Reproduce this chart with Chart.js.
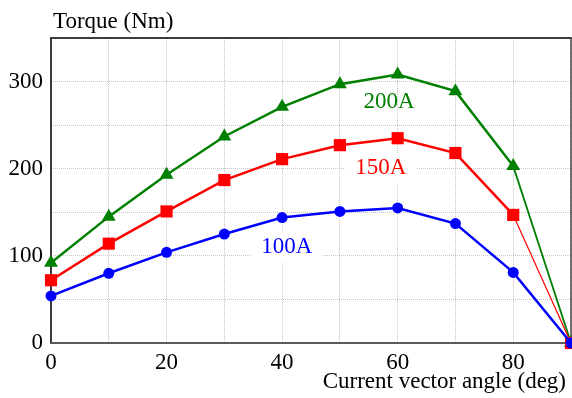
<!DOCTYPE html>
<html>
<head>
<meta charset="utf-8">
<script src="https://cdn.jsdelivr.net/npm/chart.js@4.4.1/dist/chart.umd.min.js"></script>
<style>
  html, body { margin: 0; padding: 0; background: #ffffff; }
  #wrap { width: 572px; height: 398px; }
</style>
</head>
<body>
<div id="wrap"><canvas id="c" width="572" height="398"></canvas></div>
<script>
// Current vector angle (deg)
const angles = [0, 10, 20, 30, 40, 50, 60, 70, 80, 90];

// Torque (Nm) for each phase current
const torque100A = [54, 80, 104, 125, 144, 151, 155, 137, 81, 0];
const torque150A = [72, 114, 151, 187, 211, 227, 235, 218, 147, 0];
const torque200A = [92, 145, 193, 237, 271, 297, 308, 289, 203, 0];

const seriesNames = ['100A', '150A', '200A'];

// Axis ticks
const xTickLabels = [0, 20, 40, 60, 80];
const yTickLabels = [0, 100, 200, 300];

const SERIF = '"Liberation Serif", "Times New Roman", serif';
const BLUE = '#0000ff', RED = '#ff0000', GREEN = '#008000';

// In-plot series labels, placed in data coordinates
const seriesTags = [
  { text: seriesNames[2], color: GREEN, x: 58.5, y: 277, box: false },
  { text: seriesNames[1], color: RED,   x: 57.1, y: 201, box: true },
  { text: seriesNames[0], color: BLUE,  x: 40.8, y: 110, box: true }
];

const frameAndLabels = {
  id: 'frameAndLabels',
  beforeDatasetsDraw(chart) {
    const { ctx, chartArea: a, scales } = chart;
    ctx.save();
    ctx.font = '23px ' + SERIF;
    // white backing behind boxed labels
    seriesTags.forEach(t => {
      if (!t.box) return;
      const cx = scales.x.getPixelForValue(t.x);
      const cy = scales.y.getPixelForValue(t.y);
      const w = ctx.measureText(t.text).width;
      ctx.fillStyle = '#ffffff';
      ctx.fillRect(cx - w / 2 - 10, cy - 15, w + 20, 30);
    });
    // plot frame
    ctx.lineCap = 'square';
    ctx.strokeStyle = '#000000';
    ctx.lineWidth = 1.5;
    ctx.beginPath(); ctx.moveTo(a.left, a.top); ctx.lineTo(a.right, a.top); ctx.stroke();
    ctx.strokeStyle = '#444444';
    ctx.beginPath(); ctx.moveTo(a.right, a.top); ctx.lineTo(a.right, a.bottom); ctx.stroke();
    ctx.lineWidth = 2;
    ctx.strokeStyle = '#3a3a3a';
    ctx.beginPath(); ctx.moveTo(a.left, a.top); ctx.lineTo(a.left, a.bottom); ctx.stroke();
    ctx.strokeStyle = '#5a5a5a';
    ctx.beginPath(); ctx.moveTo(a.left, a.bottom); ctx.lineTo(a.right, a.bottom); ctx.stroke();
    ctx.restore();
  },
  afterDatasetsDraw(chart) {
    const { ctx, chartArea: a, scales } = chart;
    ctx.save();
    ctx.font = '23px ' + SERIF;
    ctx.textAlign = 'center';
    ctx.textBaseline = 'middle';
    seriesTags.forEach(t => {
      ctx.fillStyle = t.color;
      ctx.fillText(t.text, scales.x.getPixelForValue(t.x), scales.y.getPixelForValue(t.y));
    });
    // axis titles
    ctx.fillStyle = '#000000';
    ctx.textAlign = 'left';
    ctx.fillText('Torque (Nm)', a.left + 2, 22);
    ctx.textAlign = 'right';
    ctx.fillText('Current vector angle (deg)', a.right - 5, 382);
    ctx.restore();
  }
};

const gridStyle = { color: '#c4c4c4', lineWidth: 1, drawTicks: false };
const borderStyle = { display: false, dash: [1, 1] };

new Chart(document.getElementById('c'), {
  type: 'line',
  data: {
    labels: angles,
    datasets: [
      {
        label: seriesNames[0],
        data: angles.map((a, i) => ({ x: a, y: torque100A[i] })),
        borderColor: BLUE, backgroundColor: BLUE,
        borderWidth: 2.5,
        pointStyle: 'circle', pointRadius: 5.5, pointBorderWidth: 0,
        clip: false
      },
      {
        label: seriesNames[1],
        data: angles.map((a, i) => ({ x: a, y: torque150A[i] })),
        borderColor: RED, backgroundColor: RED,
        borderWidth: 2.5,
        segment: { borderWidth: ctx => ctx.p1DataIndex === angles.length - 1 ? 1.2 : 2.5 },
        pointStyle: 'rect', pointRadius: 8.6, pointBorderWidth: 0,
        clip: false
      },
      {
        label: seriesNames[2],
        data: angles.map((a, i) => ({ x: a, y: torque200A[i] })),
        borderColor: GREEN, backgroundColor: GREEN,
        borderWidth: 2.5,
        segment: { borderWidth: ctx => ctx.p1DataIndex === angles.length - 1 ? 1.8 : 2.5 },
        pointStyle: 'triangle', pointRadius: 8, pointBorderWidth: 0,
        clip: false
      }
    ]
  },
  options: {
    responsive: false,
    animation: false,
    devicePixelRatio: 1,
    layout: { autoPadding: false, padding: { top: 38, right: 1, left: 0, bottom: 0 } },
    plugins: { legend: { display: false }, tooltip: { enabled: false }, title: { display: false } },
    elements: { line: { tension: 0 } },
    scales: {
      x: {
        type: 'linear', min: 0, max: 90,
        border: { ...borderStyle },
        grid: { ...gridStyle },
        ticks: {
          stepSize: 10, padding: 6, color: '#000000', maxRotation: 0, autoSkip: false,
          font: { family: SERIF, size: 23 },
          callback: v => (xTickLabels.includes(v) ? String(v) : '')
        },
        afterFit(scale) {
          scale.height = 55;
          scale.paddingLeft = 0;
          scale.paddingRight = 0;
        }
      },
      y: {
        type: 'linear', min: 0, max: 350,
        border: { ...borderStyle },
        grid: { ...gridStyle },
        ticks: {
          stepSize: 50, padding: 8, color: '#000000', autoSkip: false,
          font: { family: SERIF, size: 23 },
          callback: v => (yTickLabels.includes(v) ? String(v) : '')
        },
        afterFit(scale) {
          scale.width = 51;
          scale.paddingTop = 0;
          scale.paddingBottom = 0;
        }
      }
    }
  },
  plugins: [frameAndLabels]
});
</script>
</body>
</html>
